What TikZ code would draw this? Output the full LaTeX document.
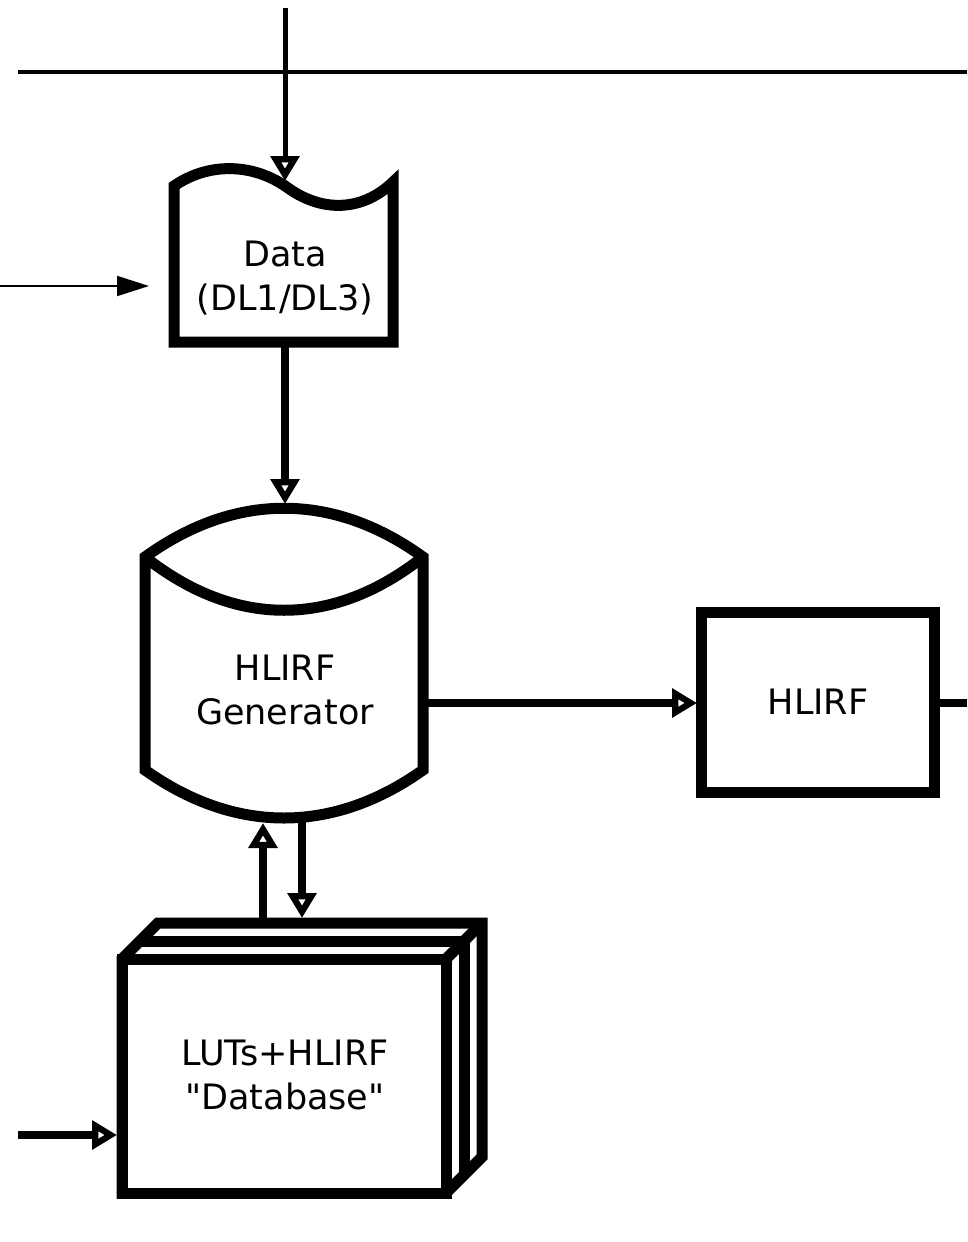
\documentclass[tikz,border=0pt]{standalone}
\usepackage{fontspec}
\setmainfont{DejaVu Sans}
\newfontfamily\lblfont{DejaVu Sans}
\usetikzlibrary{arrows.meta}
\begin{document}
\begin{tikzpicture}[x=1pt,y=-1pt,
  shp/.style={line width=11, line join=miter, fill=white},
  tipopen/.style={-{Triangle[open, length=25, width=28, line width=9]}},
  conn/.style={line width=8, tipopen},
  thinline/.style={line width=4},
  lbl/.style={align=center, font=\lblfont\fontsize{35}{44}\selectfont, inner sep=0pt}]
\useasboundingbox (0,0) rectangle (967,1242);
% shapes
\draw[shp] (174,186) .. controls (207,163) and (252,162) .. (288,188)
  .. controls (323,213) and (363,211) .. (393,182) -- (393,342) -- (174,342) -- cycle;
\draw[shp] (145,557) .. controls (235,492) and (333,492) .. (423,557) -- (423,770)
  .. controls (333,834) and (235,834) .. (145,770) -- cycle;
\draw[shp,fill=none] (145,557) .. controls (235,628) and (333,628) .. (423,557);
\draw[shp] (701.5,612.5) rectangle (934,792);
\draw[shp] (122,959) -- (158,923) -- (482,923) -- (482,1157) -- (446,1193) -- (122,1193) -- cycle;
\draw[shp] (122,959) rectangle (446,1193);
\draw[shp] (446,959) -- (482,923);
\draw[shp,fill=none] (140,941) -- (464,941) -- (464,1175);
% labels
\node[lbl] (data) at (285,278) {Data\\(DL1/DL3)};
\node[lbl] (gen) at (285,690) {HLIRF\\Generator};
\node[lbl] (hlirf) at (818,702) {HLIRF};
\node[lbl] (db) at (285,1075) {LUTs+HLIRF\\"Database"};
% coordinates
\coordinate (topL) at (18,72);
\coordinate (topR) at (967,72);
\coordinate (topIn) at (285,8);
\coordinate (dataTop) at (285,181);
\coordinate (dataBot) at (285,346);
\coordinate (leftIn) at (0,286);
\coordinate (dataLeft) at (149,286);
\coordinate (genTop) at (285,504);
\coordinate (genRight) at (423,703);
\coordinate (hlirfLeft) at (697,703);
\coordinate (hlirfRight) at (934,703);
\coordinate (outR) at (967,703);
\coordinate (genBotA) at (263,823);
\coordinate (genBotB) at (302,818);
\coordinate (dbTopA) at (263,922);
\coordinate (dbTopB) at (302,918);
\coordinate (dbIn) at (18,1135);
\coordinate (dbLeft) at (117,1135);
% connectors
\draw[thinline] (topL) -- (topR);
\draw[line width=5, tipopen] (topIn) -- (dataTop);
\draw[line width=2, -{Triangle[length=32, width=20]}] (leftIn) -- (dataLeft);
\draw[conn] (dataBot) -- (genTop);
\draw[conn] (genRight) -- (hlirfLeft);
\draw[line width=8] (hlirfRight) -- (outR);
\draw[conn] (dbTopA) -- (genBotA);
\draw[conn] (genBotB) -- (dbTopB);
\draw[conn] (dbIn) -- (dbLeft);
\end{tikzpicture}
\end{document}
